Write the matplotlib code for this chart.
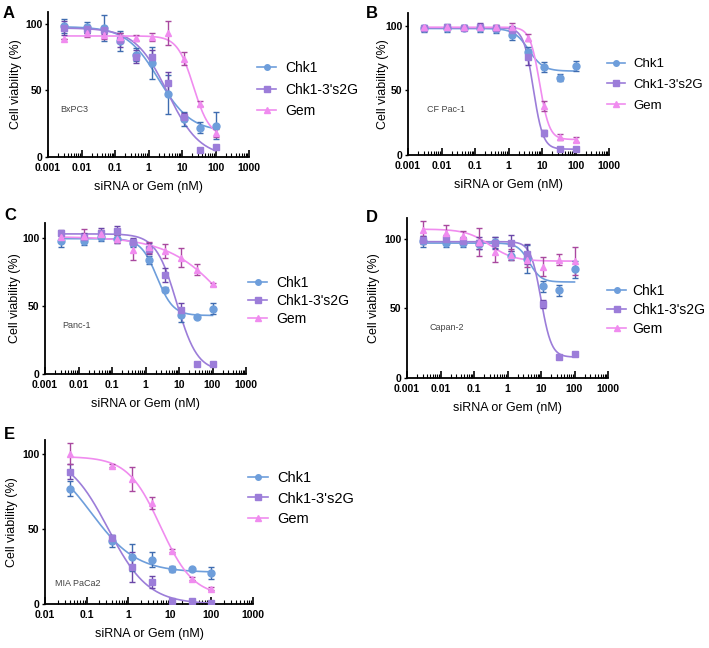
import matplotlib.pyplot as plt
import matplotlib.ticker as mticker
import matplotlib.transforms as mtransforms
import numpy as np

plt.rcParams['font.family'] = ['Liberation Sans', 'DejaVu Sans']

# doses (nM)
dose = [0.003, 0.015, 0.046, 0.137, 0.41, 1.23, 3.7, 11.1, 33.3, 100]
dose_e = [0.04, 0.4, 1.23, 3.7, 11.1, 33.3, 100]

series = ['Chk1', "Chk1-3's2G", 'Gem']
colors = ['#6e9edb', '#9c7dd9', '#f08cef']
err_colors = ['#3f6cb0', '#6a47a8', '#a9489f']
markers = ['o', 's', '^']

# panel A - BxPC3
a_chk1 = [98.5, 97.5, 97, 87, 77, 71, 47, 28.5, 22, 23.5]
a_chk1_err = [5.5, 4, 10, 7.5, 5, 12, 15, 5, 4, 10]
a_s2g = [97, 96, 95.5, 88, 75.5, 75.5, 56, 30, 5.5, 7.5]
a_s2g_err = [5, 3, 3, 5, 5, 5, 8, 3, 0, 0]
a_gem = [88.5, 93, 92, 90, 89.5, 90.5, 93, 74, 40, 18]
a_gem_err = [0, 3, 3, 3, 2, 3, 9, 5, 2, 3]
# fit params: top, bottom, ic50, hill
a_fits = [[98, 19, 2.0, 0.9], [97, 0, 3.7, 0.9], [91, 15, 22, 1.8]]

# panel B - CF Pac-1
b_chk1 = [98, 98.5, 98.5, 98, 97.5, 93, 80, 68, 60, 69]
b_chk1_err = [3, 3, 2, 3, 3, 4, 4, 4, 3, 4]
b_s2g = [98, 99, 98.5, 99.5, 98, 97, 76, 17, 5, 5]
b_s2g_err = [2, 2, 2, 3, 2, 3, 6, 2, 1, 1]
b_gem = [99, 99, 99, 99, 99, 99, 91, 38, 14, 12]
b_gem_err = [1, 2, 1, 2, 2, 3, 3, 4, 2, 2]
b_fits = [[98, 65, 4.0, 2.0], [98.5, 4.5, 5.5, 3.0], [99, 12, 8.5, 3.0]]

# panel C - Panc-1
c_chk1 = [97.5, 98, 100.5, 99, 96, 83.7, 62, 43.4, 42, 48]
c_chk1_err = [4, 3, 3, 3, 3, 3, 2, 5, 1, 4]
c_s2g = [104, 101, 103.6, 105, 97, 92, 72.7, 47, 7.5, 7.5]
c_s2g_err = [2, 3, 4, 4, 3, 4, 5, 5, 0, 0]
c_gem = [101, 101.5, 103, 99.5, 91, 93, 90.5, 85.6, 76.8, 66]
c_gem_err = [2, 5, 3, 3, 7, 4, 5, 7, 4, 1]
c_fits = [[99.5, 43, 2.2, 1.8], [103, 2, 8.5, 1.4], [101, 0, 376, 0.48]]

# panel D - Capan-2
d_chk1 = [98.3, 97, 97, 96, 97.6, 88, 85.6, 66, 63, 78]
d_chk1_err = [4, 3, 3, 3, 4, 3, 10, 4, 4, 6]
d_s2g = [99, 100, 98.3, 97, 97, 97, 89, 53, 15, 17.5]
d_s2g_err = [3, 3, 3, 4, 4, 6, 7, 3, 1, 1]
d_gem = [106.7, 104, 102, 97.6, 90.4, 88.7, 85, 80, 85, 84]
d_gem_err = [6, 6, 4, 10, 7, 4, 5, 7, 4, 10]
d_fits = [[97, 69, 4.5, 2.5], [98, 15, 10, 2.8], [107, 84, 0.3, 1.2]]

# panel E - MIA PaCa2
e_chk1 = [76.7, 41.8, 31, 29.5, 23, 23, 20.7]
e_chk1_err = [5, 4, 9, 5, 2, 1, 4]
e_s2g = [88, 44, 24.4, 14.4, 1.8, 1.8, 0.7]
e_s2g_err = [5, 2, 10, 4, 0, 0, 0]
e_gem = [100, 91.8, 83.3, 67.3, 35.5, 16.7, 10]
e_gem_err = [7, 1, 8, 4, 1, 1, 1]
e_fits = [[100, 21, 0.13, 0.8], [100, 0, 0.33, 0.9], [98, 5, 6.0, 1.1]]


def fourpl(x, p):
    top, bottom, ic50, hill = p
    return bottom + (top - bottom) / (1 + (x / ic50) ** hill)


fig = plt.figure(figsize=(7.09, 6.48), dpi=100)


def panel(rect, x, ys, errs, fits, ylim, xlim, letter, letter_xy, cell, cell_xy,
          leg_xy, ylab_x, leg_fs=10, leg_sp=0.55, leg_tp=0.6):
    ax = fig.add_axes(rect)
    xs = np.logspace(np.log10(x[0]), np.log10(x[-1]), 200)
    for i in range(3):
        ax.plot(xs, fourpl(xs, fits[i]), color=colors[i], lw=1.2, zorder=2)
        ax.errorbar(x, ys[i], yerr=errs[i], fmt='none', ecolor=err_colors[i],
                    elinewidth=1, capsize=2, capthick=1, zorder=3)
        ax.plot(x, ys[i], ls='none', marker=markers[i], color=colors[i],
                ms=5, zorder=4)
        ax.plot([], [], color=colors[i], marker=markers[i], ms=4, lw=1.2,
                label=series[i])
    ax.set_xscale('log')
    ax.set_xlim(*xlim)
    ax.set_ylim(*ylim)
    ax.set_yticks([0, 50, 100])
    ax.xaxis.set_major_locator(mticker.LogLocator(base=10))
    ax.xaxis.set_minor_locator(mticker.LogLocator(base=10, subs=np.arange(2, 10)))
    ax.xaxis.set_minor_formatter(mticker.NullFormatter())
    ax.xaxis.set_major_formatter(mticker.FuncFormatter(lambda v, p: ('%g' % v)))
    ax.tick_params(axis='x', which='major', direction='in', length=5, width=1.2,
                   labelsize=7.5, pad=4)
    ax.tick_params(axis='x', which='minor', direction='in', length=3, width=0.8)
    ax.tick_params(axis='y', direction='out', length=2, width=1, labelsize=7.5, pad=2)
    for lab in ax.get_xticklabels() + ax.get_yticklabels():
        lab.set_fontweight('bold')
    for s in ['top', 'right']:
        ax.spines[s].set_visible(False)
    for s in ['left', 'bottom']:
        ax.spines[s].set_linewidth(1.3)
    ax.set_ylabel('Cell viability (%)', fontsize=9, va='center', ha='center')
    tr = mtransforms.blended_transform_factory(fig.transFigure, ax.transAxes)
    ax.yaxis.set_label_coords(ylab_x / 709, 0.5, transform=tr)
    ax.set_xlabel('siRNA or Gem (nM)', fontsize=9, labelpad=6)
    fig.text(letter_xy[0] / 709, 1 - letter_xy[1] / 648, letter, fontsize=12,
             fontweight='bold', va='top', ha='left')
    fig.text(cell_xy[0] / 709, 1 - cell_xy[1] / 648, cell, fontsize=6.5,
             color='#444444', va='center', ha='left')
    ax.legend(loc='upper left', bbox_to_anchor=(leg_xy[0] / 709, 1 - leg_xy[1] / 648),
              bbox_transform=fig.transFigure, frameon=False, fontsize=leg_fs,
              handlelength=1.4, handletextpad=leg_tp, labelspacing=leg_sp,
              borderpad=0, borderaxespad=0)
    return ax


panel([48 / 709, 1 - 157 / 648, 201 / 709, 145 / 648], dose,
      [a_chk1, a_s2g, a_gem], [a_chk1_err, a_s2g_err, a_gem_err], a_fits,
      (0, 109), (0.001, 1000), 'A', (3, 6), 'BxPC3', (60, 110), (257, 61), 16)
panel([408 / 709, 1 - 155 / 648, 201 / 709, 142 / 648], dose,
      [b_chk1, b_s2g, b_gem], [b_chk1_err, b_s2g_err, b_gem_err], b_fits,
      (0, 110), (0.001, 1000), 'B', (366, 6), 'CF Pac-1', (427, 109), (607, 58), 383,
      leg_fs=9.5, leg_sp=0.65)
panel([45 / 709, 1 - 374 / 648, 201 / 709, 151 / 648], dose,
      [c_chk1, c_s2g, c_gem], [c_chk1_err, c_s2g_err, c_gem_err], c_fits,
      (0, 111), (0.001, 1000), 'C', (4, 208), 'Panc-1', (62, 326), (248, 276), 15,
      leg_sp=0.3)
panel([407 / 709, 1 - 378 / 648, 201 / 709, 160 / 648], dose,
      [d_chk1, d_s2g, d_gem], [d_chk1_err, d_s2g_err, d_gem_err], d_fits,
      (0, 115), (0.001, 1000), 'D', (366, 210), 'Capan-2', (430, 328), (607, 284), 374,
      leg_sp=0.35, leg_tp=0.4)
panel([45 / 709, 1 - 604 / 648, 208 / 709, 164 / 648], dose_e,
      [e_chk1, e_s2g, e_gem], [e_chk1_err, e_s2g_err, e_gem_err], e_fits,
      (0, 109), (0.01, 1000), 'E', (4, 427), 'MIA PaCa2', (55, 583), (248, 471), 12,
      leg_fs=10.5, leg_sp=0.45)

fig.savefig('out.png', dpi=100)
